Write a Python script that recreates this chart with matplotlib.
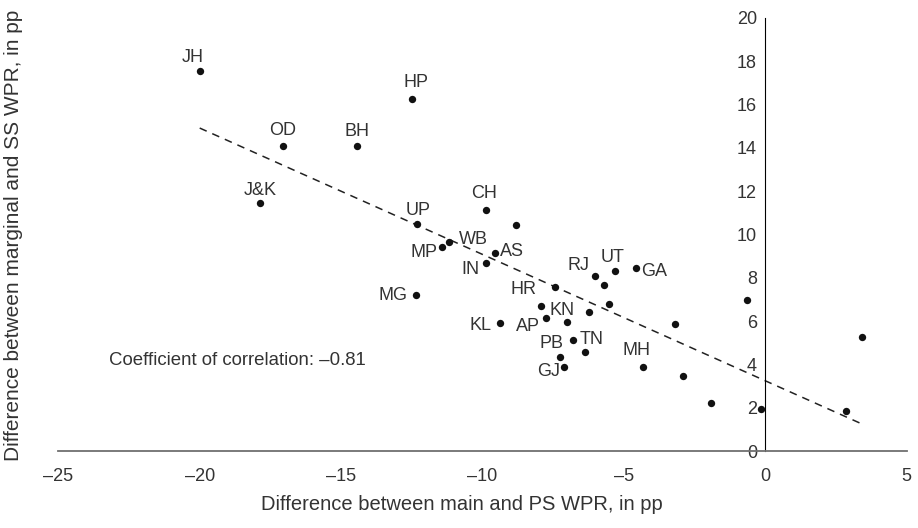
import numpy as np
import matplotlib
matplotlib.use("Agg")
import matplotlib.pyplot as plt

plt.rcParams['font.family'] = ['Liberation Sans', 'DejaVu Sans']

# difference between main and PS WPR (x) vs marginal and SS WPR (y), in pp
x_vals = [-20.0, -12.48, -17.07, -14.45, -17.87, -12.31, -9.88, -8.82, -11.17, -11.42,
          -9.56, -9.88, -6.02, -5.30, -4.58, -5.69, -7.43, -12.35, -7.94, -7.75,
          -7.00, -6.23, -5.52, -9.38, -6.79, -6.38, -7.26, -7.11, -4.31, -3.18,
          -0.64, -2.90, -1.93, -0.16, 2.84, 3.43]
y_vals = [17.55, 16.24, 14.07, 14.07, 11.44, 10.47, 11.15, 10.45, 9.65, 9.44,
          9.16, 8.67, 8.08, 8.33, 8.45, 7.67, 7.57, 7.21, 6.70, 6.13,
          5.96, 6.43, 6.79, 5.91, 5.14, 4.59, 4.33, 3.87, 3.89, 5.87,
          6.97, 3.48, 2.20, 1.93, 1.86, 5.25]
labels = ['JH', 'HP', 'OD', 'BH', 'J&K', 'UP', 'CH', '', 'WB', 'MP',
          'AS', 'IN', 'RJ', 'UT', 'GA', '', '', 'MG', 'HR', 'AP',
          'KN', '', '', 'KL', 'TN', '', 'PB', 'GJ', 'MH', '',
          '', '', '', '', '', '']
# label offsets in pixels (dx, dy)
label_off = {'JH': (-7, 14), 'HP': (4, 17), 'OD': (0, 16), 'BH': (0, 15),
             'J&K': (0, 13), 'UP': (1, 14), 'CH': (-2, 16), 'WB': (24, 3),
             'MP': (-18, -6), 'AS': (17, 1), 'IN': (-15, -6), 'RJ': (-17, 11),
             'UT': (-3, 13), 'GA': (18, -3), 'HR': (-17, 16), 'MG': (-23, -1),
             'KN': (-5, 11), 'KL': (-20, -2), 'AP': (-18, -8), 'PB': (-8, 14),
             'TN': (18, 0), 'GJ': (-16, -4), 'MH': (-7, 16)}
corr_text = 'Coefficient of correlation: \u20130.81'

x = np.array(x_vals)
y = np.array(y_vals)

fig = plt.figure(figsize=(9.18, 5.28), dpi=100)
ax = fig.add_axes([58.3 / 918, 77 / 528, 848.4 / 918, 433 / 528])
ax.set_xlim(-25, 5)
ax.set_ylim(0, 20)

txt_col = '#333333'
ax.scatter(x, y, s=28, color='#111111', zorder=3, linewidths=0)

# linear trend
k, b = np.polyfit(x, y, 1)
xs = np.array([x.min(), x.max()])
ax.plot(xs, k * xs + b, color='#222222', lw=1.1, dashes=(5, 4), zorder=2)

for xi, yi, lab in zip(x, y, labels):
    if lab:
        dx, dy = label_off[lab]
        ax.annotate(lab, (xi, yi), xytext=(dx, dy), textcoords='offset pixels',
                    ha='center', va='center', fontsize=13, color=txt_col)

ax.text(-23.2, 4.16, corr_text, ha='left', va='center', fontsize=13.4, color=txt_col)

for s in ['top', 'right']:
    ax.spines[s].set_visible(False)
ax.spines['left'].set_position(('data', 0))
ax.spines['left'].set_color('black')
ax.spines['left'].set_linewidth(0.8)
ax.spines['bottom'].set_color('#707070')
ax.spines['bottom'].set_linewidth(1.3)

ax.set_xticks(np.arange(-25, 6, 5))
ax.set_xticklabels([str(v).replace('-', '\u2013') for v in range(-25, 6, 5)])
ax.set_yticks(np.arange(0, 21, 2))
ax.tick_params(axis='both', length=0, labelsize=13, labelcolor=txt_col)
ax.tick_params(axis='x', pad=12)
ax.tick_params(axis='y', pad=6)

fig.text(462 / 918, 1 - 505 / 528, 'Difference between main and PS WPR, in pp',
         ha='center', va='center', fontsize=14.5, color=txt_col)
fig.text(14 / 918, 1 - 235 / 528, 'Difference between marginal and SS WPR, in pp',
         ha='center', va='center', rotation=90, fontsize=15, color=txt_col)

fig.savefig('out.png', dpi=100)
